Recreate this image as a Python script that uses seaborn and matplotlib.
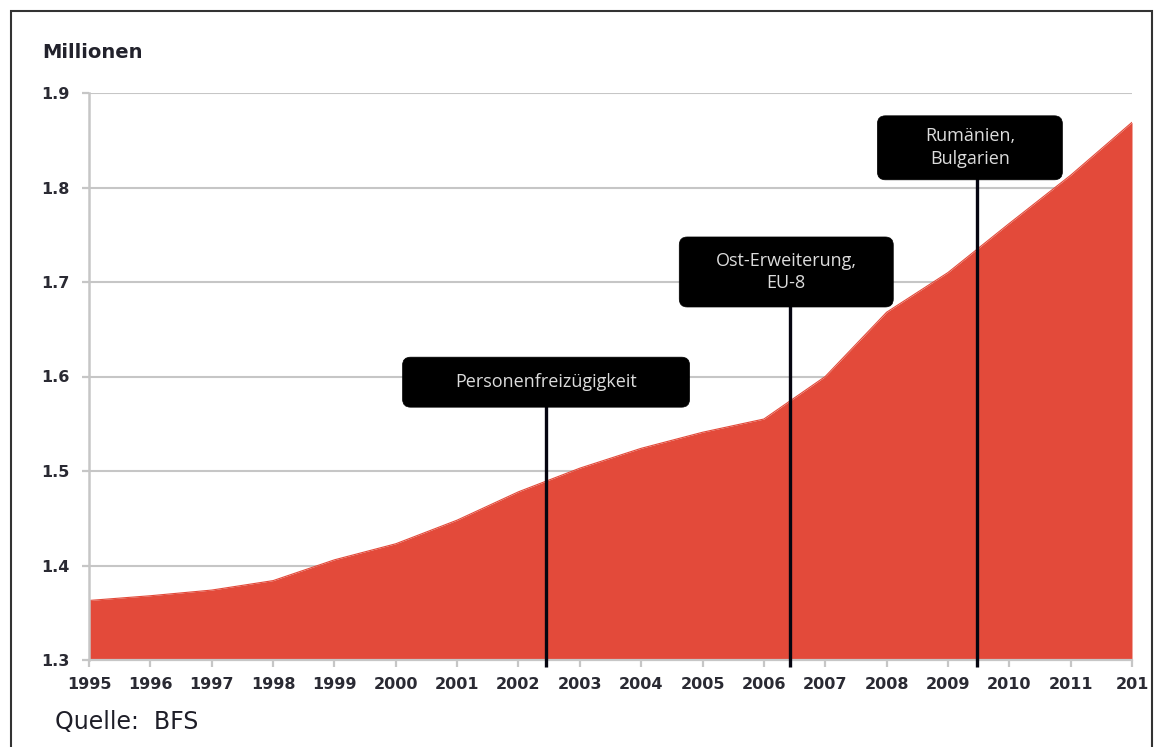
import matplotlib
matplotlib.use("Agg")
import matplotlib.pyplot as plt
from matplotlib.patches import FancyBboxPatch, Rectangle
from matplotlib.transforms import IdentityTransform
import seaborn as sns
import pandas as pd

# ---- data ----
years = list(range(1995, 2013))
population = [1.363, 1.368, 1.374, 1.384, 1.406, 1.423, 1.448, 1.478, 1.503,
              1.524, 1.541, 1.555, 1.600, 1.668, 1.710, 1.762, 1.813, 1.869]
year_labels = [str(y) for y in years[:-1]] + ["201"]
y_ticks = [1.3, 1.4, 1.5, 1.6, 1.7, 1.8, 1.9]
y_labels = ["1.3", "1.4", "1.5", "1.6", "1.7", "1.8", "1.9"]
event_years = [2002.45, 2006.43, 2009.48]
event_labels = ["Personenfreizügigkeit", "Ost-Erweiterung,\nEU-8", "Rumänien,\nBulgarien"]
box_centers_y = [1.594, 1.7106, 1.842]
box_sizes_px = [(287, 50), (214, 70), (185, 64)]
box_offsets_px = [0, -4, -7.5]

df = pd.DataFrame({"Jahr": years, "Millionen": population})

sns.set_theme(style="white")
plt.rcParams["font.family"] = ["DejaVu Sans"]

W, H = 1155, 747
fig = plt.figure(figsize=(W / 100, H / 100), dpi=100)
ax = fig.add_axes([89 / W, 1 - 660 / H, (1132 - 89) / W, (660 - 93) / H])

red = "#E34A3A"
grid_c = "#c6c6c6"

ax.set_xlim(1995, 2012)
ax.set_ylim(1.3, 1.9)
ax.set_yticks(y_ticks)
ax.set_yticklabels(y_labels)
ax.set_xticks(years)
ax.set_xticklabels(year_labels)

for yv in y_ticks:
    ax.axhline(yv, color=grid_c, lw=1.5, zorder=0)

sns.lineplot(data=df, x="Jahr", y="Millionen", ax=ax, color=red, lw=0.8, zorder=2)
ax.fill_between(df["Jahr"], 1.3, df["Millionen"], color=red, lw=0, zorder=2)
ax.set_xlabel("")
ax.set_ylabel("")

for s in ["top", "right"]:
    ax.spines[s].set_visible(False)
ax.spines["left"].set_color(grid_c)
ax.spines["left"].set_linewidth(1.8)
ax.spines["bottom"].set_color(grid_c)
ax.spines["bottom"].set_linewidth(1.6)
ax.spines["bottom"].set_zorder(3)

ax.tick_params(axis="both", which="both", direction="out", color=grid_c,
               width=1.6, length=5, bottom=True, left=True)
ax.tick_params(axis="x", pad=7)
ax.tick_params(axis="y", pad=9)
for lab in ax.get_xticklabels() + ax.get_yticklabels():
    lab.set_fontsize(11.5)
    lab.set_fontweight("bold")
    lab.set_color("#2a2a33")

# event lines and boxes
fig.canvas.draw()
for ex, lab, cy, (bw, bh), dx in zip(event_years, event_labels, box_centers_y,
                                     box_sizes_px, box_offsets_px):
    ax.plot([ex, ex], [1.2925, cy], color="#050510", lw=2.4, zorder=4,
            clip_on=False, solid_capstyle="butt")
    px, py = ax.transData.transform((ex, cy))
    px += dx
    box = FancyBboxPatch((px - bw / 2, py - bh / 2), bw, bh,
                         boxstyle="round,pad=0,rounding_size=8",
                         facecolor="#000000", edgecolor="#000000", lw=0.5,
                         transform=IdentityTransform(), zorder=5)
    fig.add_artist(box)
    fig.text(px / W, py / H, lab, ha="center", va="center", color="#dcdcdc",
             fontsize=13, family="Open Sans", linespacing=1.35, zorder=6)

fig.text(42 / W, 1 - 52 / H, "Millionen", ha="left", va="center",
         fontsize=14, color="#22222c", fontweight="bold")
fig.text(55 / W, 1 - 722 / H, "Quelle:  BFS", ha="left", va="center",
         fontsize=17, color="#1e1e28")

frame = Rectangle((11 / W, -0.05), (1152 - 11) / W, (H - 11) / H + 0.05,
                  transform=fig.transFigure, fill=False, edgecolor="#333333",
                  lw=1.5, zorder=10)
fig.add_artist(frame)

fig.savefig("out.png", dpi=100, facecolor="white")
